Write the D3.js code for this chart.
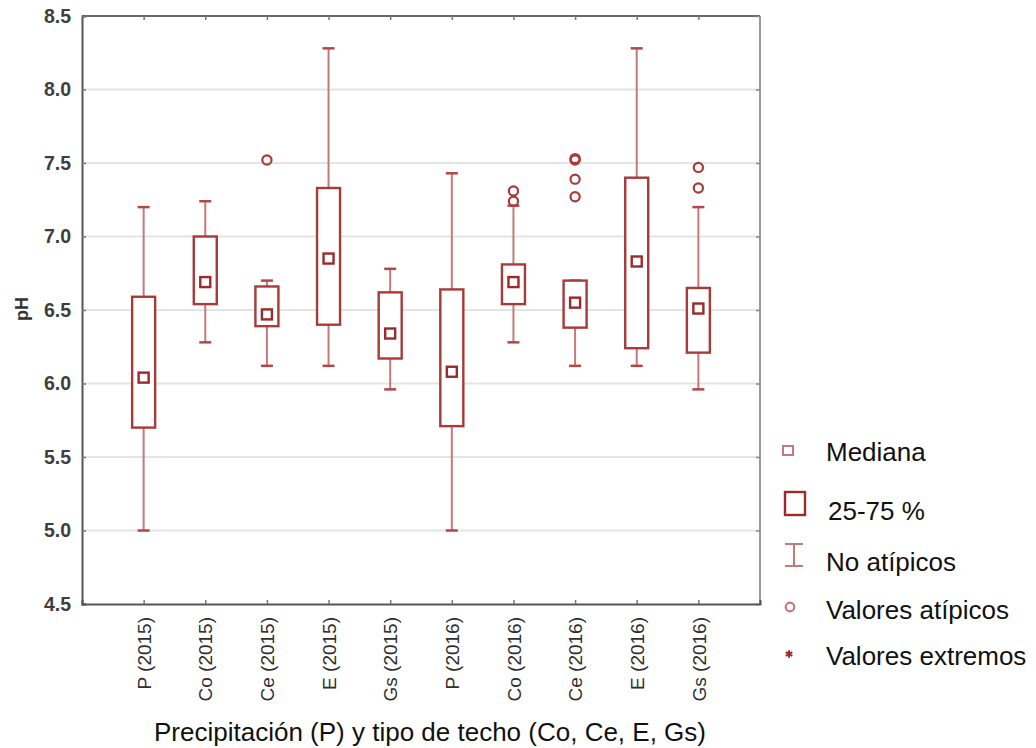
<!DOCTYPE html>
<html>
<head>
<meta charset="utf-8">
<script src="https://cdn.jsdelivr.net/npm/d3@7"></script>
<style>
  html, body { margin: 0; padding: 0; background: #fff; }
  svg { display: block; font-family: "Liberation Sans", Arial, sans-serif; }
</style>
</head>
<body>
<svg id="chart" width="1036" height="748"></svg>
<script>
// ---- data ----
const categories = ["P (2015)", "Co (2015)", "Ce (2015)", "E (2015)", "Gs (2015)",
                    "P (2016)", "Co (2016)", "Ce (2016)", "E (2016)", "Gs (2016)"];
const whiskerLow  = [5.00, 6.28, 6.12, 6.12, 5.96, 5.00, 6.28, 6.12, 6.12, 5.96];
const q1          = [5.70, 6.54, 6.39, 6.40, 6.17, 5.71, 6.54, 6.38, 6.24, 6.21];
const medians     = [6.04, 6.69, 6.47, 6.85, 6.34, 6.08, 6.69, 6.55, 6.83, 6.51];
const q3          = [6.59, 7.00, 6.66, 7.33, 6.62, 6.64, 6.81, 6.70, 7.40, 6.65];
const whiskerHigh = [7.20, 7.24, 6.70, 8.28, 6.78, 7.43, 7.21, 6.70, 8.28, 7.20];
const outliers    = [[], [], [7.52], [], [], [], [7.24, 7.31], [7.27, 7.39, 7.52, 7.53], [], [7.33, 7.47]];
const yTicks      = [4.5, 5.0, 5.5, 6.0, 6.5, 7.0, 7.5, 8.0, 8.5];
const yLabel      = "pH";
const xLabel      = "Precipitación (P) y tipo de techo (Co, Ce, E, Gs)";
const legendLabels = ["Mediana", "25-75 %", "No atípicos", "Valores atípicos", "Valores extremos"];

// ---- layout / style ----
const plot = { left: 82, right: 760, top: 16, bottom: 604 };
const dark = "#9c2a2a";
const light = "#c47a7a";

const svg = d3.select("#chart");

const x = d3.scalePoint().domain(categories).range([plot.left, plot.right]).padding(1);
const y = d3.scaleLinear().domain([4.5, 8.5]).range([plot.bottom, plot.top]);

// grid
svg.append("g").selectAll("line").data(yTicks.slice(1, -1)).join("line")
  .attr("x1", plot.left).attr("x2", plot.right)
  .attr("y1", d => y(d)).attr("y2", d => y(d))
  .attr("stroke", "#e4e4e4").attr("stroke-width", 2);

// frame top / right
const frame = svg.append("g");
frame.append("line").attr("x1", plot.left).attr("x2", plot.right)
  .attr("y1", plot.top).attr("y2", plot.top).attr("stroke", "#6a6a6a").attr("stroke-width", 2);
frame.append("line").attr("x1", plot.right).attr("x2", plot.right)
  .attr("y1", plot.top).attr("y2", plot.bottom).attr("stroke", "#9a9a9a").attr("stroke-width", 2);

// top ticks
svg.append("g").attr("transform", `translate(0,${plot.top})`)
  .call(d3.axisTop(x).tickSize(-4).tickFormat(""))
  .call(g => g.select(".domain").remove())
  .call(g => g.selectAll(".tick line").attr("stroke", "#777").attr("stroke-width", 1.5));
// right ticks
svg.append("g").attr("transform", `translate(${plot.right},0)`)
  .call(d3.axisRight(y).tickValues(yTicks).tickSize(-4).tickFormat(""))
  .call(g => g.select(".domain").remove())
  .call(g => g.selectAll(".tick line").attr("stroke", "#888").attr("stroke-width", 1.5));

// left axis
svg.append("g").attr("transform", `translate(${plot.left},0)`)
  .call(d3.axisLeft(y).tickValues(yTicks).tickFormat(d3.format(".1f")).tickSize(-4).tickPadding(11))
  .call(g => g.select(".domain").attr("stroke", "#555").attr("stroke-width", 2))
  .call(g => g.selectAll(".tick line").attr("stroke", "#777").attr("stroke-width", 1.5))
  .call(g => g.selectAll(".tick text")
      .attr("font-size", 19.5).attr("font-weight", "bold").attr("fill", "#3e3e3e")
      .attr("font-family", "Liberation Sans, Arial, sans-serif"));

// bottom axis
svg.append("g").attr("transform", `translate(0,${plot.bottom})`)
  .call(d3.axisBottom(x).tickSize(-4))
  .call(g => g.select(".domain").attr("stroke", "#555").attr("stroke-width", 2))
  .call(g => g.selectAll(".tick line").attr("stroke", "#777").attr("stroke-width", 1.5))
  .call(g => g.selectAll(".tick text")
      .attr("transform", "rotate(-90)")
      .attr("x", -13).attr("y", 0).attr("dy", "0.35em")
      .attr("text-anchor", "end")
      .attr("font-size", 19).attr("fill", "#2e2e2e")
      .attr("font-family", "Liberation Sans, Arial, sans-serif"));

// axis titles
svg.append("text")
  .attr("transform", `translate(22,${y(6.5) - 1}) rotate(-90)`)
  .attr("text-anchor", "middle").attr("dy", "0.35em")
  .attr("font-size", 18).attr("font-weight", "bold").attr("fill", "#333")
  .text(yLabel);

svg.append("text")
  .attr("x", 430).attr("y", 741)
  .attr("text-anchor", "middle")
  .attr("font-size", 26).attr("fill", "#111")
  .text(xLabel);

// ---- boxes ----
const boxW = 23, capW = 12, medS = 10;
const data = categories.map((c, i) => ({
  c, lo: whiskerLow[i], q1: q1[i], med: medians[i], q3: q3[i], hi: whiskerHigh[i], out: outliers[i]
}));

const items = svg.append("g").selectAll("g.item").data(data).join("g").attr("class", "item");

// whiskers
items.append("line")
  .attr("x1", d => x(d.c)).attr("x2", d => x(d.c))
  .attr("y1", d => y(d.q3)).attr("y2", d => y(d.hi))
  .attr("stroke", light).attr("stroke-width", 2);
items.append("line")
  .attr("x1", d => x(d.c)).attr("x2", d => x(d.c))
  .attr("y1", d => y(d.q1)).attr("y2", d => y(d.lo))
  .attr("stroke", light).attr("stroke-width", 2);
// caps
items.append("line")
  .attr("x1", d => x(d.c) - capW / 2).attr("x2", d => x(d.c) + capW / 2)
  .attr("y1", d => y(d.hi)).attr("y2", d => y(d.hi))
  .attr("stroke", "#b04848").attr("stroke-width", 2.5);
items.append("line")
  .attr("x1", d => x(d.c) - capW / 2).attr("x2", d => x(d.c) + capW / 2)
  .attr("y1", d => y(d.lo)).attr("y2", d => y(d.lo))
  .attr("stroke", "#b04848").attr("stroke-width", 2.5);
// box
items.append("rect")
  .attr("x", d => x(d.c) - boxW / 2).attr("width", boxW)
  .attr("y", d => y(d.q3)).attr("height", d => y(d.q1) - y(d.q3))
  .attr("fill", "#fff").attr("stroke", "#a83a3a").attr("stroke-width", 2.4);
// median
items.append("rect")
  .attr("x", d => x(d.c) - medS / 2).attr("width", medS)
  .attr("y", d => y(d.med) - medS / 2).attr("height", medS)
  .attr("fill", "#fff").attr("stroke", dark).attr("stroke-width", 2.4);
// outliers
items.each(function(d) {
  d3.select(this).selectAll("circle").data(d.out).join("circle")
    .attr("cx", x(d.c)).attr("cy", v => y(v)).attr("r", 4.6)
    .attr("fill", "none").attr("stroke", "#a83a3a").attr("stroke-width", 2.2);
});

// ---- legend ----
const lg = svg.append("g");
const textX = 826;
const baselines = [461, 520, 571, 619, 665];
lg.selectAll("text").data(legendLabels).join("text")
  .attr("x", (d, i) => i === 1 ? textX + 2 : textX).attr("y", (d, i) => baselines[i])
  .attr("font-size", 26).attr("fill", "#111")
  .text(d => d);

// median marker
lg.append("rect").attr("x", 783).attr("y", 446).attr("width", 10).attr("height", 9)
  .attr("fill", "#fff").attr("stroke", light).attr("stroke-width", 2);
// box marker
lg.append("rect").attr("x", 785).attr("y", 492).attr("width", 20).attr("height", 23)
  .attr("fill", "#fff").attr("stroke", dark).attr("stroke-width", 2.4);
// whisker marker
lg.append("line").attr("x1", 794).attr("x2", 794).attr("y1", 544).attr("y2", 566)
  .attr("stroke", light).attr("stroke-width", 2);
lg.append("line").attr("x1", 785).attr("x2", 803).attr("y1", 544).attr("y2", 544)
  .attr("stroke", light).attr("stroke-width", 2);
lg.append("line").attr("x1", 785).attr("x2", 803).attr("y1", 566).attr("y2", 566)
  .attr("stroke", light).attr("stroke-width", 2);
// outlier marker
lg.append("circle").attr("cx", 790).attr("cy", 607).attr("r", 4.3)
  .attr("fill", "none").attr("stroke", light).attr("stroke-width", 2.2);
// extreme marker
lg.append("path").attr("transform", "translate(789,654)")
  .attr("d", d3.symbol().type(d3.symbolAsterisk).size(40)())
  .attr("fill", "none").attr("stroke", dark).attr("stroke-width", 2);
</script>
</body>
</html>
